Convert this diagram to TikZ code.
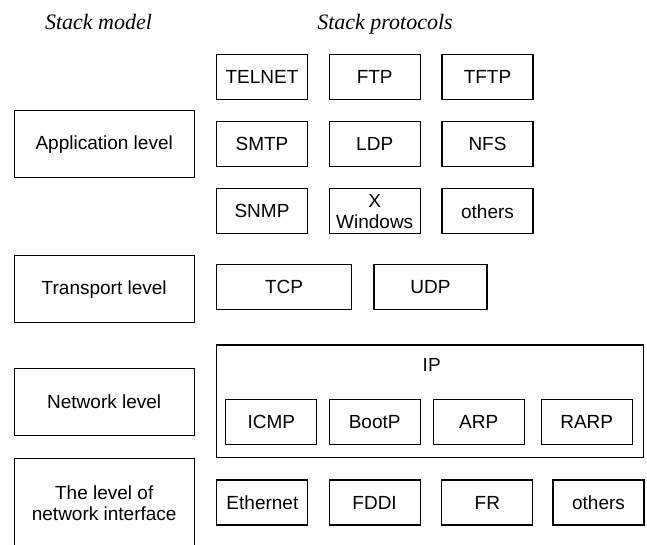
\documentclass[tikz,border=0pt]{standalone}
\usepackage{fontspec}
\setmainfont{Liberation Sans}
\newfontfamily\headfont{Liberation Serif}
\begin{document}
\begin{tikzpicture}[x=1pt,y=-1pt,
  frame/.style={draw=black, line width=1.1pt, inner sep=0pt, align=center,
    font=\fontsize{19}{21}\selectfont},
  lvl/.style={frame, minimum width=180pt, minimum height=67pt},
  proto/.style={frame, minimum width=91pt, minimum height=45pt},
  head/.style={anchor=base, font=\headfont\itshape\fontsize{22}{24}\selectfont}]
\useasboundingbox (0,0) rectangle (647,545);
\clip (0,0) rectangle (647,545);

% column headings
\node[head] (hmodel) at (98.5,30) {Stack model};
\node[head] (hproto) at (385,30) {Stack protocols};

% stack model levels
\node[lvl] (app)   at (104.2,144.2) {Application level};
\node[lvl] (trans) at (104.2,289.2) {Transport level};
\node[lvl] (net)   at (104.2,401.7) {Network level};
\node[lvl, minimum height=89pt] (iface) at (104.2,502.8) {The level of\\network interface};

% application protocols
\node[proto] (telnet) at (262,76.7)    {TELNET};
\node[proto] (ftp)    at (374.7,76.7)  {FTP};
\node[proto] (tftp)   at (487.5,76.7)  {TFTP};
\node[proto] (smtp)   at (262,143.8)   {SMTP};
\node[proto] (ldp)    at (374.7,143.8) {LDP};
\node[proto] (nfs)    at (487.5,143.8) {NFS};
\node[proto] (snmp)   at (262,211.3)   {SNMP};
\node[proto] (xwin)   at (374.7,211.3) {X\\Windows};
\node[proto] (aoth)   at (487.5,211.3) {others};

% transport protocols
\node[proto, minimum width=135pt] (tcp) at (284,286.8)   {TCP};
\node[proto, minimum width=113pt] (udp) at (430.5,286.8) {UDP};

% network protocols
\node[frame, minimum width=426.6pt, minimum height=112.7pt] (ip) at (430,401.3) {};
\node[frame, draw=none] (iplabel) at (431.7,365) {IP};
\node[proto] (icmp)  at (271.3,421.7) {ICMP};
\node[proto] (bootp) at (374.7,421.7) {BootP};
\node[proto] (arp)   at (478.7,421.7) {ARP};
\node[proto] (rarp)  at (586.7,421.7) {RARP};

% network interface protocols
\node[proto] (eth)  at (262.4,502.5) {Ethernet};
\node[proto] (fddi) at (374.6,502.5) {FDDI};
\node[proto] (fr)   at (487.4,502.5) {FR};
\node[proto] (noth) at (598.5,502.5) {others};
\end{tikzpicture}
\end{document}
